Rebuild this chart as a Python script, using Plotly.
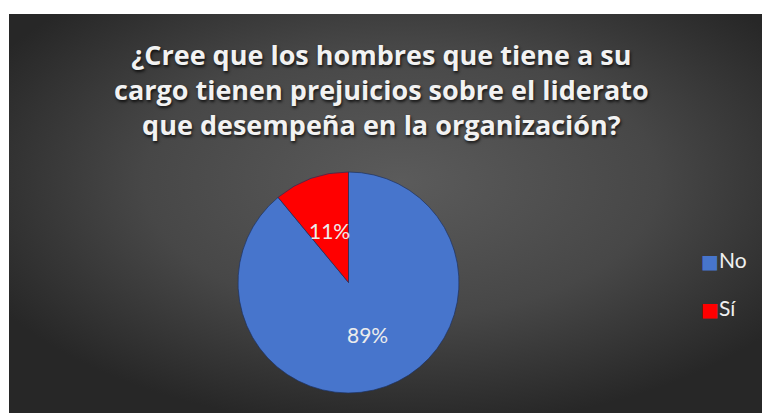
import base64
import math
import plotly.graph_objects as go

# Survey answers
categories = ["No", "Sí"]
values = [89, 11]
colors = ["#4775CC", "#FF0000"]
title_lines = [
    "¿Cree que los hombres que tiene a su",
    "cargo tienen prejuicios sobre el liderato",
    "que desempeña en la organización?",
]

W, H = 762, 413

# Dark radial-gradient panel behind the chart
svg = (
    '<svg xmlns="http://www.w3.org/2000/svg" width="753" height="399">'
    '<defs><radialGradient id="g" cx="0.52" cy="0.42" r="0.62">'
    '<stop offset="0" stop-color="#5b5b5b"/>'
    '<stop offset="0.55" stop-color="#474747"/>'
    '<stop offset="1" stop-color="#272727"/>'
    '</radialGradient></defs>'
    '<rect width="753" height="399" fill="url(#g)"/></svg>'
)
bg_src = "data:image/svg+xml;base64," + base64.b64encode(svg.encode()).decode()

# Pie placement (pixels)
cx, cy, R = 348.5, 282.5, 110.5
dom_x = [(cx - R) / W, (cx + R) / W]
dom_y = [1 - (cy + R) / H, 1 - (cy - R) / H]

fig = go.Figure(
    go.Pie(
        labels=categories,
        values=values,
        marker=dict(colors=colors, line=dict(color="rgba(30,50,95,0.7)", width=1)),
        sort=False,
        direction="clockwise",
        rotation=0,
        textinfo="none",
        hoverinfo="label+percent",
        showlegend=False,
        domain=dict(x=dom_x, y=dom_y),
    )
)

annotations = []

# Percentage labels at half radius along each slice's bisector
total = sum(values)
start = 0.0
for v in values:
    frac = v / total
    mid = (start + frac / 2) * 2 * math.pi
    start += frac
    px = cx + 0.5 * R * math.sin(mid)
    py = cy - 0.5 * R * math.cos(mid)
    annotations.append(dict(
        x=px / W, y=1 - py / H, xref="paper", yref="paper",
        xanchor="center", yanchor="middle",
        text=f"{round(frac * 100)}%", showarrow=False,
        font=dict(family="Lato", size=21, color="#ececec"),
    ))

# Three-line title
annotations.append(dict(
    x=381 / W, y=1 - 89 / H, xref="paper", yref="paper",
    xanchor="center", yanchor="middle",
    text="<b>" + "<br>".join(title_lines) + "</b>", showarrow=False,
    font=dict(family="Open Sans", size=27, color="#f2f2f2",
              shadow="1px 2px 3px rgba(0,0,0,0.75)"),
))

# Legend entries
legend_y = [259, 307]
for cat, col, ly in zip(categories, colors, legend_y):
    annotations.append(dict(
        x=699 / W, y=1 - ly / H, xref="paper", yref="paper",
        xanchor="left", yanchor="middle",
        text=f'<span style="color:{col};font-family:DejaVu Sans;font-size:19px">■</span>{cat}',
        showarrow=False,
        font=dict(family="Lato", size=21, color="#f0f0f0"),
    ))

fig.update_layout(
    width=W, height=H,
    margin=dict(l=0, r=0, t=0, b=0),
    paper_bgcolor="white",
    plot_bgcolor="white",
    images=[dict(
        source=bg_src, xref="paper", yref="paper",
        x=9 / W, y=1 - 14 / H, sizex=753 / W, sizey=399 / H,
        xanchor="left", yanchor="top", sizing="stretch", layer="below",
    )],
    annotations=annotations,
)

fig.write_html("out.html")
